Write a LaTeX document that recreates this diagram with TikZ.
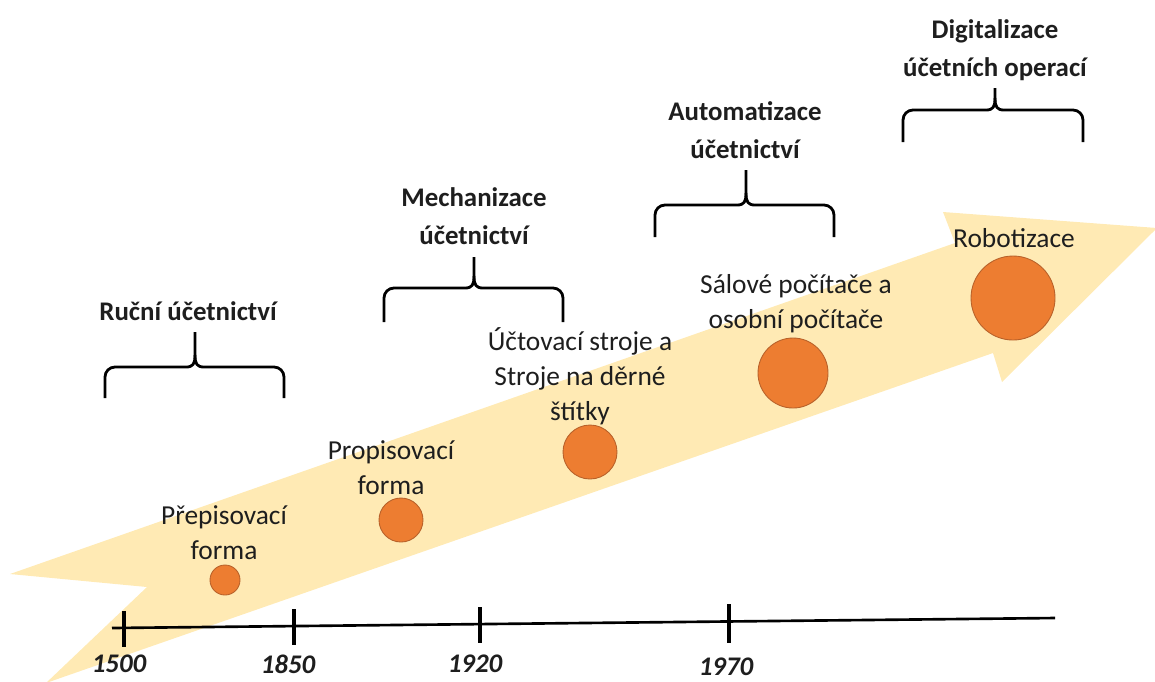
\documentclass[tikz,border=0pt]{standalone}
\usepackage{fontspec}
\setmainfont{Carlito}
\usetikzlibrary{positioning}
\definecolor{sipka}{HTML}{FFEAB4}
\definecolor{kruhfill}{HTML}{ED7D31}
\definecolor{kruhdraw}{HTML}{B8612A}
\definecolor{textc}{HTML}{1E1E1E}
\newcommand{\zavorka}[6]{%
  \draw[zav] (#1,#6) -- (#1,#4+10) to[out=90,in=180] (#1+10,#4) -- (#2-9,#4)
    .. controls (#2-2,#4) and (#2,#4-3) .. (#2,#4-12) -- (#2,#5);
  \draw[zav] (#3,#6) -- (#3,#4+10) to[out=90,in=0] (#3-10,#4) -- (#2+9,#4)
    .. controls (#2+2,#4) and (#2,#4-3) .. (#2,#4-12);
}
\tikzset{
  popis/.style={align=center, text=textc, font=\fontsize{15.6}{19.8}\selectfont},
  obdobi/.style={align=center, text=textc, font=\fontsize{15.3}{21.4}\selectfont\bfseries},
  rok/.style={text=textc, inner sep=0pt, font=\fontsize{15.3}{18}\selectfont\bfseries\itshape},
  zav/.style={line width=1.6pt, line join=round},
  kruh/.style={fill=kruhfill, draw=kruhdraw, line width=0.5pt},
}

\begin{document}
\begin{tikzpicture}[x=0.02cm, y=-0.02cm]
    \useasboundingbox (0,0) rectangle (1155,681);
    \begin{scope}
        \clip (0,0) rectangle (1155,681);
        % sipka
        \fill[sipka] (10,574) -- (955,243) -- (943,212) -- (1157,228) -- (1002,382)
            -- (993,353) -- (46,683) -- (147,587) -- cycle;
    \end{scope}

    % casova osa
    \coordinate (t0) at (112,628);
    \coordinate (t1) at (1055,618);
    \draw[line width=1.5pt] (t0) -- (t1);
    \foreach \x/\y/\r in {124/627.9/1500, 294/626.1/1850, 480/624.1/1920} {
        \draw[line width=2.6pt] (\x,\y-17) -- (\x,\y+19);
    }
    \draw[line width=2.6pt] (729,604) -- (729,643);
    \node[rok] (r1500) at (119,664) {1500};
    \node[rok] (r1850) at (288,664) {1850};
    \node[rok] (r1920) at (475,664) {1920};
    \node[rok] (r1970) at (726,667) {1970};

    % kruhy
    \draw[kruh] (225,580) circle (15);
    \draw[kruh] (401,520) circle (22);
    \draw[kruh] (590,452) circle (27);
    \draw[kruh] (793,373) circle (35);
    \draw[kruh] (1013,298) circle (42);

    \node[popis] (p1) at (224,533) {Přepisovací\\forma};
    \node[popis] (p2) at (391,468) {Propisovací\\forma};
    \node[popis] (p3) at (580,376) {Účtovací stroje a\\Stroje na děrné\\štítky};
    \node[popis] (p4) at (796,304) {Sálové počítače a\\osobní počítače};
    \node[popis] (p5) at (1014,238) {Robotizace};

    % zavorky
    \zavorka{105}{195}{284}{367}{332}{398}
    \zavorka{384}{474}{563}{288}{257}{322}
    \zavorka{655}{746}{834}{205}{170}{237}
    \zavorka{903}{995}{1083}{110}{88}{142}

    \node[obdobi] (o1) at (188,311) {Ruční účetnictví};
    \node[obdobi] (o2) at (474,216) {Mechanizace\\účetnictví};
    \node[obdobi] (o3) at (745,130) {Automatizace\\účetnictví};
    \node[obdobi] (o4) at (995,50) {Digitalizace\\účetních operací};
\end{tikzpicture}
\end{document}
